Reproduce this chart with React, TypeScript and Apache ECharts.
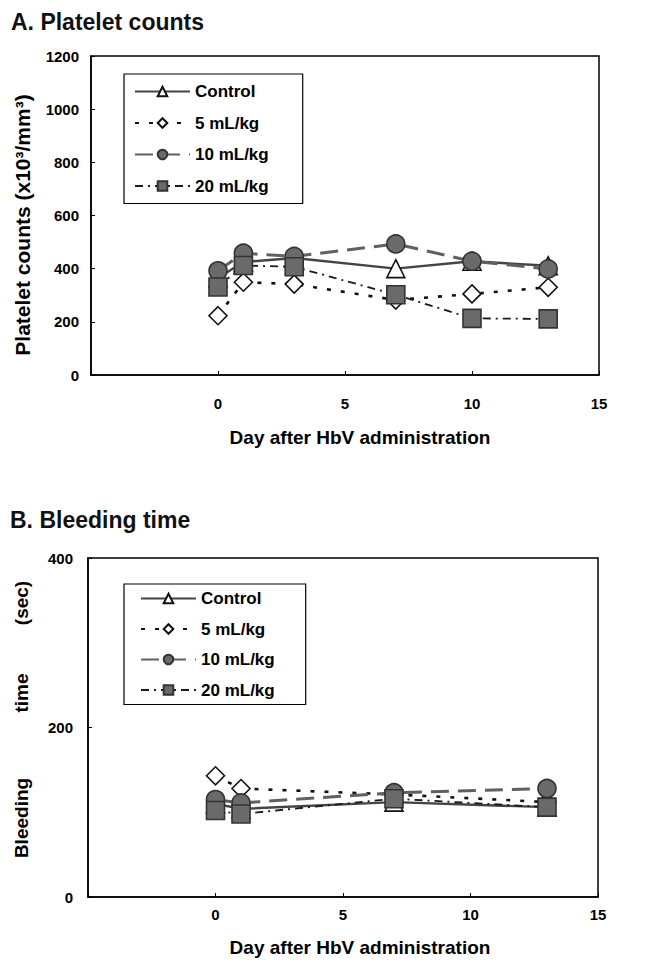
import React, { useEffect, useRef } from 'react';
import * as echarts from 'echarts';

// ---- Data ----
const seriesNames = ['Control', '5 mL/kg', '10 mL/kg', '20 mL/kg'];

// Panel A: platelet counts (x10^3/mm^3)
const daysA = [0, 1, 3, 7, 10, 13];
const controlA = [365, 425, 440, 400, 428, 411];
const ml5A = [223, 349, 342, 282, 305, 330];
const ml10A = [392, 458, 446, 493, 428, 399];
const ml20A = [331, 412, 407, 302, 213, 211];

// Panel B: bleeding time (sec)
const daysB = [0, 1, 7, 13];
const controlB = [110, 104, 112, 106];
const ml5B = [143, 128, 121, 112];
const ml10B = [115, 111, 123, 128];
const ml20B = [102, 98, 116, 106];

const xMin = -5;
const xMax = 15;
const xStep = 5;
const yMaxA = 1200;
const yStepA = 200;
const yMaxB = 400;
const yStepB = 200;

const xTitle = 'Day after HbV administration';
const yTitleA = 'Platelet counts (x10³/mm³)';
const yTitleBParts = ['Bleeding', 'time', '(sec)'];

const FONT = '"Liberation Sans", Arial, Helvetica, sans-serif';

const styleDefs = [
  { symbol: 'triangle', fill: '#ffffff', border: '#111111', line: { color: '#444444', width: 2.4, type: 'solid' as any } },
  { symbol: 'diamond', fill: '#ffffff', border: '#111111', line: { color: '#111111', width: 2.6, type: [4, 10] as any } },
  { symbol: 'circle', fill: '#6a6a6a', border: '#333333', line: { color: '#606060', width: 3, type: [18, 9] as any } },
  { symbol: 'rect', fill: '#6a6a6a', border: '#333333', line: { color: '#1a1a1a', width: 1.8, type: [8, 5, 2, 5] as any } },
];

function pairs(xs: number[], ys: number[]) {
  return xs.map((x, i) => [x, ys[i]]);
}

function makeSeries(idx: number, axis: number, xs: number[], ys: number[]) {
  const s = styleDefs[idx];
  return {
    type: 'line',
    name: seriesNames[idx],
    xAxisIndex: axis,
    yAxisIndex: axis,
    data: pairs(xs, ys),
    symbol: s.symbol,
    symbolSize: 18,
    showSymbol: true,
    clip: false,
    lineStyle: { color: s.line.color, width: s.line.width, type: s.line.type },
    itemStyle: { color: s.fill, borderColor: s.border, borderWidth: 1.6, opacity: 1 },
    emphasis: { disabled: true },
  };
}

function xAxisCfg(gridIndex: number, margin: number) {
  return {
    gridIndex,
    type: 'value',
    min: xMin,
    max: xMax,
    interval: xStep,
    axisLine: { show: true, onZero: false, lineStyle: { color: '#000', width: 1.5 } },
    axisTick: { show: true, inside: true, length: 4, lineStyle: { color: '#000', width: 1 } },
    axisLabel: {
      margin,
      fontFamily: FONT,
      fontWeight: 'bold',
      fontSize: 15,
      color: '#000',
      formatter: (v: number) => (v < 0 ? '' : String(v)),
    },
    splitLine: { show: false },
  };
}

function yAxisCfg(gridIndex: number, max: number, step: number, margin: number) {
  return {
    gridIndex,
    type: 'value',
    min: 0,
    max,
    interval: step,
    axisLine: { show: true, onZero: false, lineStyle: { color: '#000', width: 1.5 } },
    axisTick: { show: true, inside: true, length: 4, lineStyle: { color: '#000', width: 1 } },
    axisLabel: {
      margin,
      fontFamily: FONT,
      fontWeight: 'bold',
      fontSize: 15,
      color: '#000',
      formatter: (v: number) => String(v),
    },
    splitLine: { show: false },
  };
}

function legendCfg(left: number, top: number, itemGap: number, padding: number[]) {
  return {
    orient: 'vertical',
    left,
    top,
    itemWidth: 55,
    itemHeight: 12,
    itemGap,
    padding,
    borderColor: '#000',
    borderWidth: 1.2,
    backgroundColor: '#fff',
    selectedMode: false,
    textStyle: { fontFamily: FONT, fontWeight: 'bold', fontSize: 17, color: '#000', lineHeight: 17 },
    data: seriesNames,
  };
}

function vText(text: string, x: number, y: number, size: number) {
  return {
    type: 'text',
    x,
    y,
    rotation: Math.PI / 2,
    style: { text, fontFamily: FONT, fontWeight: 'bold', fontSize: size, fill: '#000', align: 'center', verticalAlign: 'middle' },
  };
}

function hText(text: string, x: number, y: number, size: number) {
  return {
    type: 'text',
    x,
    y,
    style: { text, fontFamily: FONT, fontWeight: 'bold', fontSize: size, fill: '#000', align: 'center', verticalAlign: 'middle' },
  };
}

export default function App() {
  const ref = useRef<HTMLDivElement>(null);

  useEffect(() => {
    if (!ref.current) return;
    const chart = echarts.init(ref.current, undefined, { renderer: 'svg' });
    const titleText = { fontFamily: FONT, fontWeight: 'bold', fontSize: 23, color: '#111' };
    const option: any = {
      animation: false,
      backgroundColor: '#fff',
      title: [
        { text: 'A. Platelet counts', left: 11, top: 10, padding: 0, textStyle: titleText },
        { text: 'B. Bleeding time', left: 10, top: 508, padding: 0, textStyle: titleText },
      ],
      legend: [
        legendCfg(124, 74, 14.5, [9, 34, 9, 10]),
        legendCfg(124, 584, 13.5, [6, 31, 6, 16]),
      ],
      grid: [
        { left: 91, right: 61, top: 56, bottom: 969 - 375, show: true, borderColor: '#000', borderWidth: 1.5, backgroundColor: 'transparent' },
        { left: 88, right: 62, top: 558, bottom: 969 - 897, show: true, borderColor: '#000', borderWidth: 1.5, backgroundColor: 'transparent' },
      ],
      xAxis: [xAxisCfg(0, 21), xAxisCfg(1, 10)],
      yAxis: [yAxisCfg(0, yMaxA, yStepA, 12), yAxisCfg(1, yMaxB, yStepB, 15)],
      graphic: [
        vText(yTitleA, 22, 225, 21),
        vText(yTitleBParts[0], 21, 818, 19),
        vText(yTitleBParts[1], 21, 693, 19),
        vText(yTitleBParts[2], 21, 603, 19),
        hText(xTitle, 360, 437, 19),
        hText(xTitle, 360, 947, 19),
      ],
      series: [
        makeSeries(0, 0, daysA, controlA),
        makeSeries(1, 0, daysA, ml5A),
        makeSeries(2, 0, daysA, ml10A),
        makeSeries(3, 0, daysA, ml20A),
        makeSeries(0, 1, daysB, controlB),
        makeSeries(1, 1, daysB, ml5B),
        makeSeries(2, 1, daysB, ml10B),
        makeSeries(3, 1, daysB, ml20B),
      ],
    };
    chart.setOption(option);
    return () => chart.dispose();
  }, []);

  return <div ref={ref} style={{ position: 'absolute', left: 0, top: 0, width: 660, height: 969 }} />;
}
